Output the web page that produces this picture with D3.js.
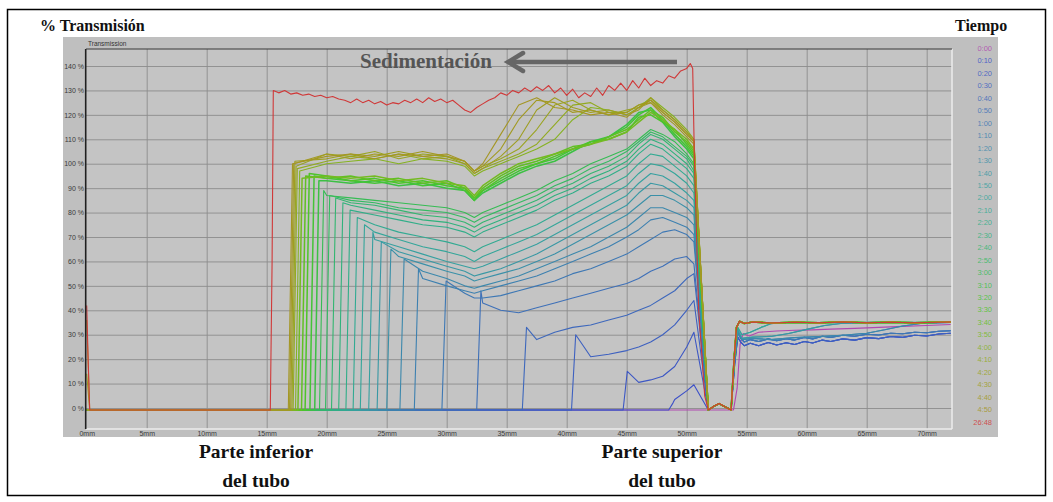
<!DOCTYPE html>
<html><head><meta charset="utf-8">
<script src="https://cdn.jsdelivr.net/npm/d3@7"></script>
<style>body{margin:0;background:#fff}svg{display:block}</style>
</head><body>
<svg id="c" width="1053" height="502"></svg>
<script>
// ---------------- DATA ----------------
const timeLabels = ["0:00","0:10","0:20","0:30","0:40","0:50","1:00","1:10","1:20","1:30","1:40","1:50",
  "2:00","2:10","2:20","2:30","2:40","2:50","3:00","3:10","3:20","3:30","3:40","3:50",
  "4:00","4:10","4:20","4:30","4:40","4:50","26:48"];
const yTicks = [0,10,20,30,40,50,60,70,80,90,100,110,120,130,140];
const xTicks = [0,5,10,15,20,25,30,35,40,45,50,55,60,65,70];

// height columns (mm) used by the profile rows; each row fills the LAST n columns
const colX = [20,22,24,26,28,30,31.5,32.3,33,34.5,36,37.5,39,40.5,42,43.5,45,46,47,48,49,50,50.6];
// clarification front (mm) and value just after the front (%) per profile
const fronts     = [null,48.6,44.8,40.5,36.4,32.6,29.7,27.4,26.2,25.1,24.3,23.6,22.9,22.3,21.7,21.1,20.5,20.0,19.5,19.1,18.7,18.3,18.0,17.7,17.5,17.3,17.2,17.1,17.0,16.9];
const frontPeaks = [null,2,15,30,33,48,52,57,61,65,68,72,75,78,81,84,86,87,89,93,95,96,95,94,97,98,99,101,100,100];
const leftEdge   = [-0.8,-0.8,-0.8,-0.8,-0.8,-0.8,-0.8,-0.8,-0.8,-0.8,-0.8,-0.8,-0.8,-0.8,-0.8,-0.8,-0.8,-0.8,-0.8,-0.8,-0.8,-0.8,-0.8,-0.8,-0.8,-0.8,-0.8,-0.8,14,36,42];

const r01 = [3.5,7,9.5];
const r02 = [10.5,11.5,13,17,25,31];
const r03 = [21,22,23.5,25,27,30,34,40,44];
const r04 = [28,31,33,34,36,38,40,42,45,48,53,55];
const r05 = [43,40,39,41,43,45,47,49,51,53,56,58,61,62,59];
const r06 = [47,45,45,46,48,50,52,55,57,60,63,66,69,72,73,71,68];
const r07 = [53,50,48,47,48,50,52,54,57,60,63,66,70,73,77,78,76,74,71];
const r08 = [56,53,50,49,50,52,54,57,60,63,66,70,74,78,82,82,80,78,75];
const r09 = [62,59,56,54,52,53,55,57,60,63,67,71,75,79,83,87,87,85,82,79];
const r10 = [64,61,58,56,54,55,57,60,63,67,71,75,79,83,88,92,91,88,85,82];
const r11 = [69,66,63,60,58,57,58,61,64,67,71,75,79,83,87,92,96,95,92,88,85];
const r12 = [72,69,66,64,62,60,62,65,68,71,75,79,83,87,91,96,100,99,96,92,88];
const r13 = [75,72,70,68,66,64,66,69,72,75,79,83,87,91,95,100,104,103,99,95,91];
const r14 = [79,77,75,74,72,70,72,75,78,81,85,88,92,95,99,104,108,106,102,98,94];
const r15 = [83,81,79,77,76,74,72,74,77,80,83,87,90,94,97,101,106,110,108,104,100,96];
const r16 = [84,83,81,79,78,76,74,76,79,82,85,89,92,96,99,103,108,112,110,106,102,97];
const r17 = [85,84,82,81,80,78,76,78,81,84,87,91,94,98,101,105,109,113,111,107,103,99];
const r18 = [87,86,85,84,83,82,80,78,80,83,86,89,93,96,100,103,106,110,114,112,109,104,100];
const r19 = [93,92,93,91,92,90,89,85,88,92,96,99,101,105,109,111,116,121,122,117,111,106,102];
const r20 = [94,93,92,93,91,92,89,85,89,93,97,100,102,106,108,111,115,120,123,118,112,107,103];
const r21 = [95,93,94,92,93,91,90,86,89,94,98,100,103,106,109,110,113,119,120,117,114,108,104];
const r22 = [94,95,93,94,92,93,90,86,90,95,99,101,104,107,108,111,114,118,122,119,113,109,105];
const r23 = [95,94,95,93,94,92,91,87,91,96,100,102,104,106,108,110,113,117,121,118,114,110,106];
const r24 = [100,101,102,100,102,101,99,95,97,100,103,106,110,118,123,122,120,123,127,123,119,114,110];
const r25 = [101,103,102,104,102,103,100,96,98,101,104,108,116,124,125,121,121,124,126,122,118,113,109];
const r26 = [104,103,105,102,104,103,101,97,99,102,106,114,124,126,122,120,122,123,125,121,117,112,109];
const r27 = [102,104,103,105,103,102,100,96,98,103,110,122,127,123,121,122,120,122,127,122,118,113,110];
const r28 = [104,102,104,103,105,103,101,97,99,106,118,126,125,121,122,120,121,124,125,120,116,111,108];
const r29 = [103,104,102,104,103,104,101,97,100,112,124,127,123,122,120,121,119,123,126,121,117,112,109];
const rows = [null,r01,r02,r03,r04,r05,r06,r07,r08,r09,r10,r11,r12,r13,r14,r15,r16,r17,r18,r19,r20,r21,r22,r23,r24,r25,r26,r27,r28,r29];

// 26:48 profile (mm, %)
const red2648 = [[0,42],[0.12,20],[0.25,-0.8],[15.3,-0.8],[15.45,60],[15.55,130],[16,129],[16.5,130],[17,128.5],[17.5,129],[18,128],[18.5,128.5],[19,127.5],[19.5,128],[20,127],[20.5,127.5],[21,126.5],[21.5,126],[22,125],[22.5,126.5],[23,125],[23.5,126],[24,124.5],[24.5,125.5],[25,124],[25.5,125],[26,124.5],[26.5,126],[27,125],[27.5,126.5],[28,125],[28.5,127],[29,125.5],[29.5,126.5],[30,125],[30.5,126],[31,124],[31.5,122],[32,121],[32.5,123],[33,124.5],[33.5,126],[34,127],[34.5,129],[35,128],[35.5,130],[36,129],[36.5,131],[37,129.5],[37.5,131.5],[38,130],[38.5,132],[39,129],[39.5,131],[40,128],[40.5,130.5],[41,127],[41.5,129],[42,127.5],[42.5,131],[43,128],[43.5,132],[44,130],[44.5,133],[45,130],[45.5,134],[46,131],[46.5,135],[47,132],[47.5,134],[48,133],[48.5,136],[49,135],[49.5,138],[50,139],[50.3,141],[50.5,139],[50.65,100],[51,40],[51.5,5]];

// meniscus and upper (air) zone
const menisc = [[51.8,-0.8],[52.3,0.8],[52.7,1.8],[53.0,1.0],[53.3,0.2],[53.7,-0.8]];
const tailPink = [[53.9,-0.8],[54.2,8],[54.45,26],[54.7,30.5],[55.2,29.5],[56,31],[57.5,31.5],[59,31.8],[60.5,32],[62,32.3],[64,32.6],[66,33],[68,33.4],[70,33.8],[72,34.2]];
const tailBlueA = [[54.0,18],[54.25,29],[54.5,27],[54.8,25.5],[55.3,26.5],[56,25.5],[56.8,26.8],[57.5,25.8],[58.3,26.7],[59,26],[59.8,27.2],[60.5,26.6],[61.3,27.8],[62,27.2],[63,28.3],[64,27.8],[65,28.8],[66,28.4],[67,29.3],[68,28.9],[69,29.8],[70,29.5],[71,30.3],[72,30.6]];
const tailBlueB = [[54.0,20],[54.25,31],[54.5,28.5],[54.8,27],[55.3,28],[56,27.2],[56.8,28.3],[57.5,27.5],[58.3,28.4],[59,27.8],[59.8,28.9],[60.5,28.3],[61.3,29.4],[62,28.9],[63,29.8],[64,29.4],[65,30.2],[66,29.9],[67,30.6],[68,30.4],[69,31],[70,30.8],[71,31.4],[72,31.6]];
const tailRamp7 = [[54.0,20],[54.25,31],[54.6,28],[55.5,28.5],[57,28],[59,28.8],[61,29.2],[63,29.8],[65,30.6],[66.5,32],[68,33.6],[69.5,34.6],[72,35]];
const tailRamp9 = [[54.0,22],[54.25,32],[54.6,28.5],[55.5,29],[57,29.3],[58.5,30.5],[60,32.2],[61.5,33.8],[63,34.7],[66,34.9],[69,35],[72,35.1]];
const tailRamp11 = [[54.0,24],[54.25,33],[54.6,30],[55.3,31],[56.2,33],[57,34.5],[58,35],[62,34.9],[66,35.1],[72,35]];
const tailTop = [[53.95,20],[54.15,33],[54.4,35.5],[54.8,34.6],[55.5,35.2],[57,34.8],[59,35.1],[61,34.9],[63,35.2],[65,34.9],[67,35.1],[69,34.9],[72,35.2]];
const tailOf = [tailPink,tailBlueA,tailBlueA,tailBlueA,tailBlueB,tailBlueB,tailBlueB,tailRamp7,tailRamp7,tailRamp9,tailRamp9,tailRamp11,tailRamp11,
  tailTop,tailTop,tailTop,tailTop,tailTop,tailTop,tailTop,tailTop,tailTop,tailTop,tailTop,tailTop,tailTop,tailTop,tailTop,tailTop,tailTop,tailTop];

// ---------------- STYLE ----------------
const lineColors = ["#b048b0","#3b4fc8","#3c57c4","#3d60c0","#3e68bc","#3e70b8","#3e78b4","#3d80b0","#3c88ac","#3a90a8","#3898a4","#36a0a0",
  "#34a69a","#32aa92","#30ae88","#30b27c","#32b670","#34ba62","#36bc54","#3cc044","#44c436","#4ec42a","#60c024","#74ba22",
  "#86b222","#92aa22","#9aa422","#9e9e22","#a29a22","#a49624","#d03838"];

// ---------------- BUILD PROFILES ----------------
const profiles = timeLabels.map((lab, i) => {
  if (i === 0) return [[0, leftEdge[0]], [53.9, -0.8]].concat(tailPink.slice(1));
  if (i === 30) return red2648.concat(menisc, tailTop);
  const pts = [[0, leftEdge[i]]];
  if (leftEdge[i] > 0) pts.push([0.25, -0.8]);
  pts.push([fronts[i] - 0.1, -0.8], [fronts[i] + 0.25, frontPeaks[i]]);
  const row = rows[i];
  const cols = colX.slice(colX.length - row.length);
  row.forEach((v, k) => pts.push([cols[k], v]));
  return pts.concat(menisc, tailOf[i]);
});

// ---------------- DRAW ----------------
const svg = d3.select("#c");
svg.append("rect").attr("width",1053).attr("height",502).attr("fill","#fff");
svg.append("rect").attr("x",7.5).attr("y",9.5).attr("width",1038).attr("height",486)
  .attr("fill","none").attr("stroke","#000").attr("stroke-width",1.5);

const x = d3.scaleLinear().domain([0,72]).range([86.7, 950.7]);
const y = d3.scaleLinear().domain([0,140]).range([408, 66]);
const L = 86, R = 952, T = 49, B = 429;

// grey panel
svg.append("rect").attr("x",63).attr("y",37).attr("width",935).attr("height",400).attr("fill","#bfbfbf");
svg.append("rect").attr("x",L).attr("y",T).attr("width",R-L).attr("height",B-T).attr("fill","#c4c4c4");

// grid through axes
const gx = svg.append("g").attr("transform",`translate(0,${B})`)
  .call(d3.axisBottom(x).tickValues(xTicks.slice(1)).tickSize(-(B-T)).tickFormat(""));
gx.select(".domain").remove();
gx.selectAll("line").attr("stroke","#8c8c8c").attr("stroke-width",0.9);
const gy = svg.append("g").attr("transform",`translate(${L},0)`)
  .call(d3.axisLeft(y).tickValues(yTicks).tickSize(-(R-L)).tickFormat(""));
gy.select(".domain").remove();
gy.selectAll("line").attr("stroke","#8c8c8c").attr("stroke-width",0.9);

// frame of plot area
svg.append("line").attr("x1",R).attr("x2",R).attr("y1",T).attr("y2",B).attr("stroke","#ececec").attr("stroke-width",1.5);
svg.append("line").attr("x1",L).attr("x2",R).attr("y1",B).attr("y2",B).attr("stroke","#ececec").attr("stroke-width",1.5);
svg.append("line").attr("x1",L).attr("x2",R).attr("y1",T).attr("y2",T).attr("stroke","#3a3a3a").attr("stroke-width",1.2);

// axis labels
const ax = svg.append("g").attr("transform",`translate(0,${B})`)
  .call(d3.axisBottom(x).tickValues(xTicks).tickSize(0).tickPadding(2).tickFormat(d => d + "mm"));
ax.select(".domain").remove();
ax.selectAll("text").attr("font-family","Liberation Sans, Arial, sans-serif").attr("font-size",7).attr("fill","#3a3a3a");
const ay = svg.append("g").attr("transform",`translate(${L-1},0)`)
  .call(d3.axisLeft(y).tickValues(yTicks).tickSize(0).tickPadding(1).tickFormat(d => d + " %"));
ay.select(".domain").remove();
ay.selectAll("text").attr("font-family","Liberation Sans, Arial, sans-serif").attr("font-size",7).attr("fill","#3a3a3a");

svg.append("text").attr("x",88).attr("y",46).text("Transmission")
  .attr("font-family","Liberation Sans, Arial, sans-serif").attr("font-size",6.5).attr("fill","#333");

// curves
svg.append("clipPath").attr("id","pc").append("rect").attr("x",L).attr("y",T).attr("width",R-L).attr("height",B-T);
const line = d3.line().x(d => x(d[0])).y(d => y(d[1]));
svg.append("g").attr("clip-path","url(#pc)").selectAll("path").data(profiles).join("path")
  .attr("d", line).attr("fill","none")
  .attr("stroke", (d,i) => lineColors[i])
  .attr("stroke-width", (d,i) => (i >= 19 && i <= 23) ? 1.5 : 1.1)
  .attr("stroke-linejoin","round");

// left axis line (on top)
svg.append("line").attr("x1",85.7).attr("x2",85.7).attr("y1",T).attr("y2",B).attr("stroke","#202020").attr("stroke-width",1.6);

// legend
svg.append("g").selectAll("text").data(timeLabels).join("text")
  .attr("x",992).attr("y",(d,i) => 51 + i*12.45).attr("text-anchor","end")
  .attr("font-family","Liberation Sans, Arial, sans-serif").attr("font-size",7.5)
  .attr("fill",(d,i) => lineColors[i]).attr("fill-opacity",0.85).text(d => d);

// titles and annotations
const serif = "Liberation Serif, Times New Roman, serif";
svg.append("text").attr("x",40).attr("y",31).text("% Transmisión")
  .attr("font-family",serif).attr("font-weight","bold").attr("font-size",16).attr("fill","#111");
svg.append("text").attr("x",955).attr("y",31).text("Tiempo")
  .attr("font-family",serif).attr("font-weight","bold").attr("font-size",16).attr("fill","#111");
svg.append("text").attr("x",360).attr("y",68).text("Sedimentación")
  .attr("font-family",serif).attr("font-weight","bold").attr("font-size",21).attr("fill","#555");
svg.append("path").attr("d","M677,62 L512,62").attr("stroke","#666").attr("stroke-width",4.5).attr("fill","none");
svg.append("path").attr("d","M523,53 L508,62 L523,71").attr("stroke","#666").attr("stroke-width",4.5)
  .attr("fill","none").attr("stroke-linejoin","miter").attr("stroke-linecap","round");

const bottomLabels = [["Parte inferior","del tubo",256],["Parte superior","del tubo",662]];
bottomLabels.forEach(b => {
  svg.append("text").attr("x",b[2]).attr("y",458).attr("text-anchor","middle").text(b[0])
    .attr("font-family",serif).attr("font-weight","bold").attr("font-size",19.5).attr("fill","#111");
  svg.append("text").attr("x",b[2]).attr("y",487).attr("text-anchor","middle").text(b[1])
    .attr("font-family",serif).attr("font-weight","bold").attr("font-size",19.5).attr("fill","#111");
});
</script>
</body></html>
